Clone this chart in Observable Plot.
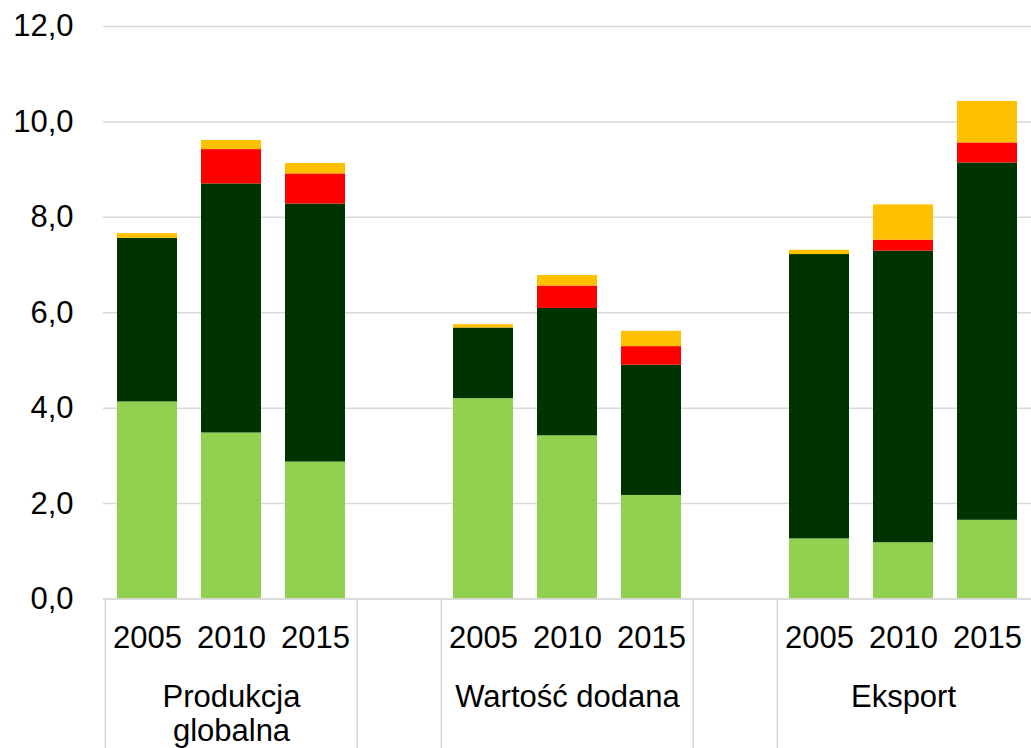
<!DOCTYPE html>
<html>
<head>
<meta charset="utf-8">
<script src="https://cdn.jsdelivr.net/npm/d3@7"></script>
<script src="https://cdn.jsdelivr.net/npm/@observablehq/plot@0.6"></script>
<style>
  html, body { margin: 0; padding: 0; background: #fff; }
</style>
</head>
<body>
<div id="chart"></div>
<script>
const groups = ["Produkcja\nglobalna", "Wartość dodana", "Eksport"];
const years = ["2005", "2010", "2015"];
const seriesNames = ["Seria 1", "Seria 2", "Seria 3", "Seria 4"];
const seriesColors = ["#92d050", "#003300", "#ff0000", "#ffc000"];
// values per bar: [Produkcja 2005, 2010, 2015, Wartość 2005, 2010, 2015, Eksport 2005, 2010, 2015]
const s1 = [4.13, 3.48, 2.87, 4.20, 3.42, 2.17, 1.26, 1.18, 1.65];
const s2 = [3.43, 5.22, 5.41, 1.48, 2.67, 2.73, 5.96, 6.11, 7.49];
const s3 = [0.00, 0.72, 0.63, 0.00, 0.47, 0.39, 0.00, 0.23, 0.42];
const s4 = [0.10, 0.19, 0.22, 0.07, 0.22, 0.32, 0.09, 0.74, 0.87];
const yTicks = [0, 2, 4, 6, 8, 10, 12];

const seriesValues = [s1, s2, s3, s4];

// category domain with an empty slot between groups
const domain = [];
const catInfo = {};
groups.forEach((g, gi) => {
  years.forEach((yr, yi) => {
    const key = `g${gi}-${yr}`;
    domain.push(key);
    catInfo[key] = {group: g, year: yr, middle: yi === 1, first: yi === 0};
  });
  if (gi < groups.length - 1) {
    const key = `gap${gi}`;
    domain.push(key);
    catInfo[key] = {group: "", year: "", middle: false, first: true};
  }
});

const data = [];
groups.forEach((g, gi) => {
  years.forEach((yr, yi) => {
    const idx = gi * years.length + yi;
    seriesNames.forEach((s, si) => {
      data.push({cat: `g${gi}-${yr}`, series: s, value: seriesValues[si][idx]});
    });
  });
});

const W = 1031, H = 748, ML = 103, MR = 0, MT = 26, MB = 149.5;
const step = (W - ML - MR) / domain.length;
const pxPerUnit = (H - MT - MB) / (yTicks[yTicks.length - 1] - yTicks[0]);
const yBottom = -MB / pxPerUnit;
const boundaries = domain.filter(d => catInfo[d].first);
const fmt = d => d.toFixed(1).replace(".", ",");
const grid = "#d9d9d9";
const FS = 31;

const chart = Plot.plot({
  width: W,
  height: H,
  marginLeft: ML,
  marginRight: MR,
  marginTop: MT,
  marginBottom: MB,
  style: {fontFamily: "'Liberation Sans', Arial, sans-serif", fontSize: FS + "px", color: "#000", background: "#fff"},
  x: {domain, paddingInner: 0.29, paddingOuter: 0.145, axis: null},
  y: {domain: [0, 12], axis: null},
  color: {domain: seriesNames, range: seriesColors},
  marks: [
    Plot.gridY(yTicks, {stroke: grid, strokeOpacity: 1, strokeWidth: 1.5}),
    Plot.axisY(yTicks, {tickSize: 0, tickPadding: 30, tickFormat: fmt, fontSize: FS, fill: "#000", label: null}),
    Plot.barY(data, {x: "cat", y: "value", fill: "series"}),
    Plot.ruleY([0], {stroke: grid, strokeWidth: 1.5}),
    Plot.ruleX(boundaries, {x: d => d, y1: 0, y2: yBottom, dx: -step / 2, stroke: grid, strokeWidth: 1.5}),
    Plot.axisX({tickSize: 0, tickPadding: 27, tickFormat: d => catInfo[d].year, fontSize: FS, fill: "#000", label: null}),
    Plot.axisX({tickSize: 0, tickPadding: 83, tickFormat: d => catInfo[d].middle ? catInfo[d].group : "", fontSize: FS, lineHeight: 1.12, fill: "#000", label: null})
  ]
});
document.getElementById("chart").appendChild(chart);
</script>
</body>
</html>
